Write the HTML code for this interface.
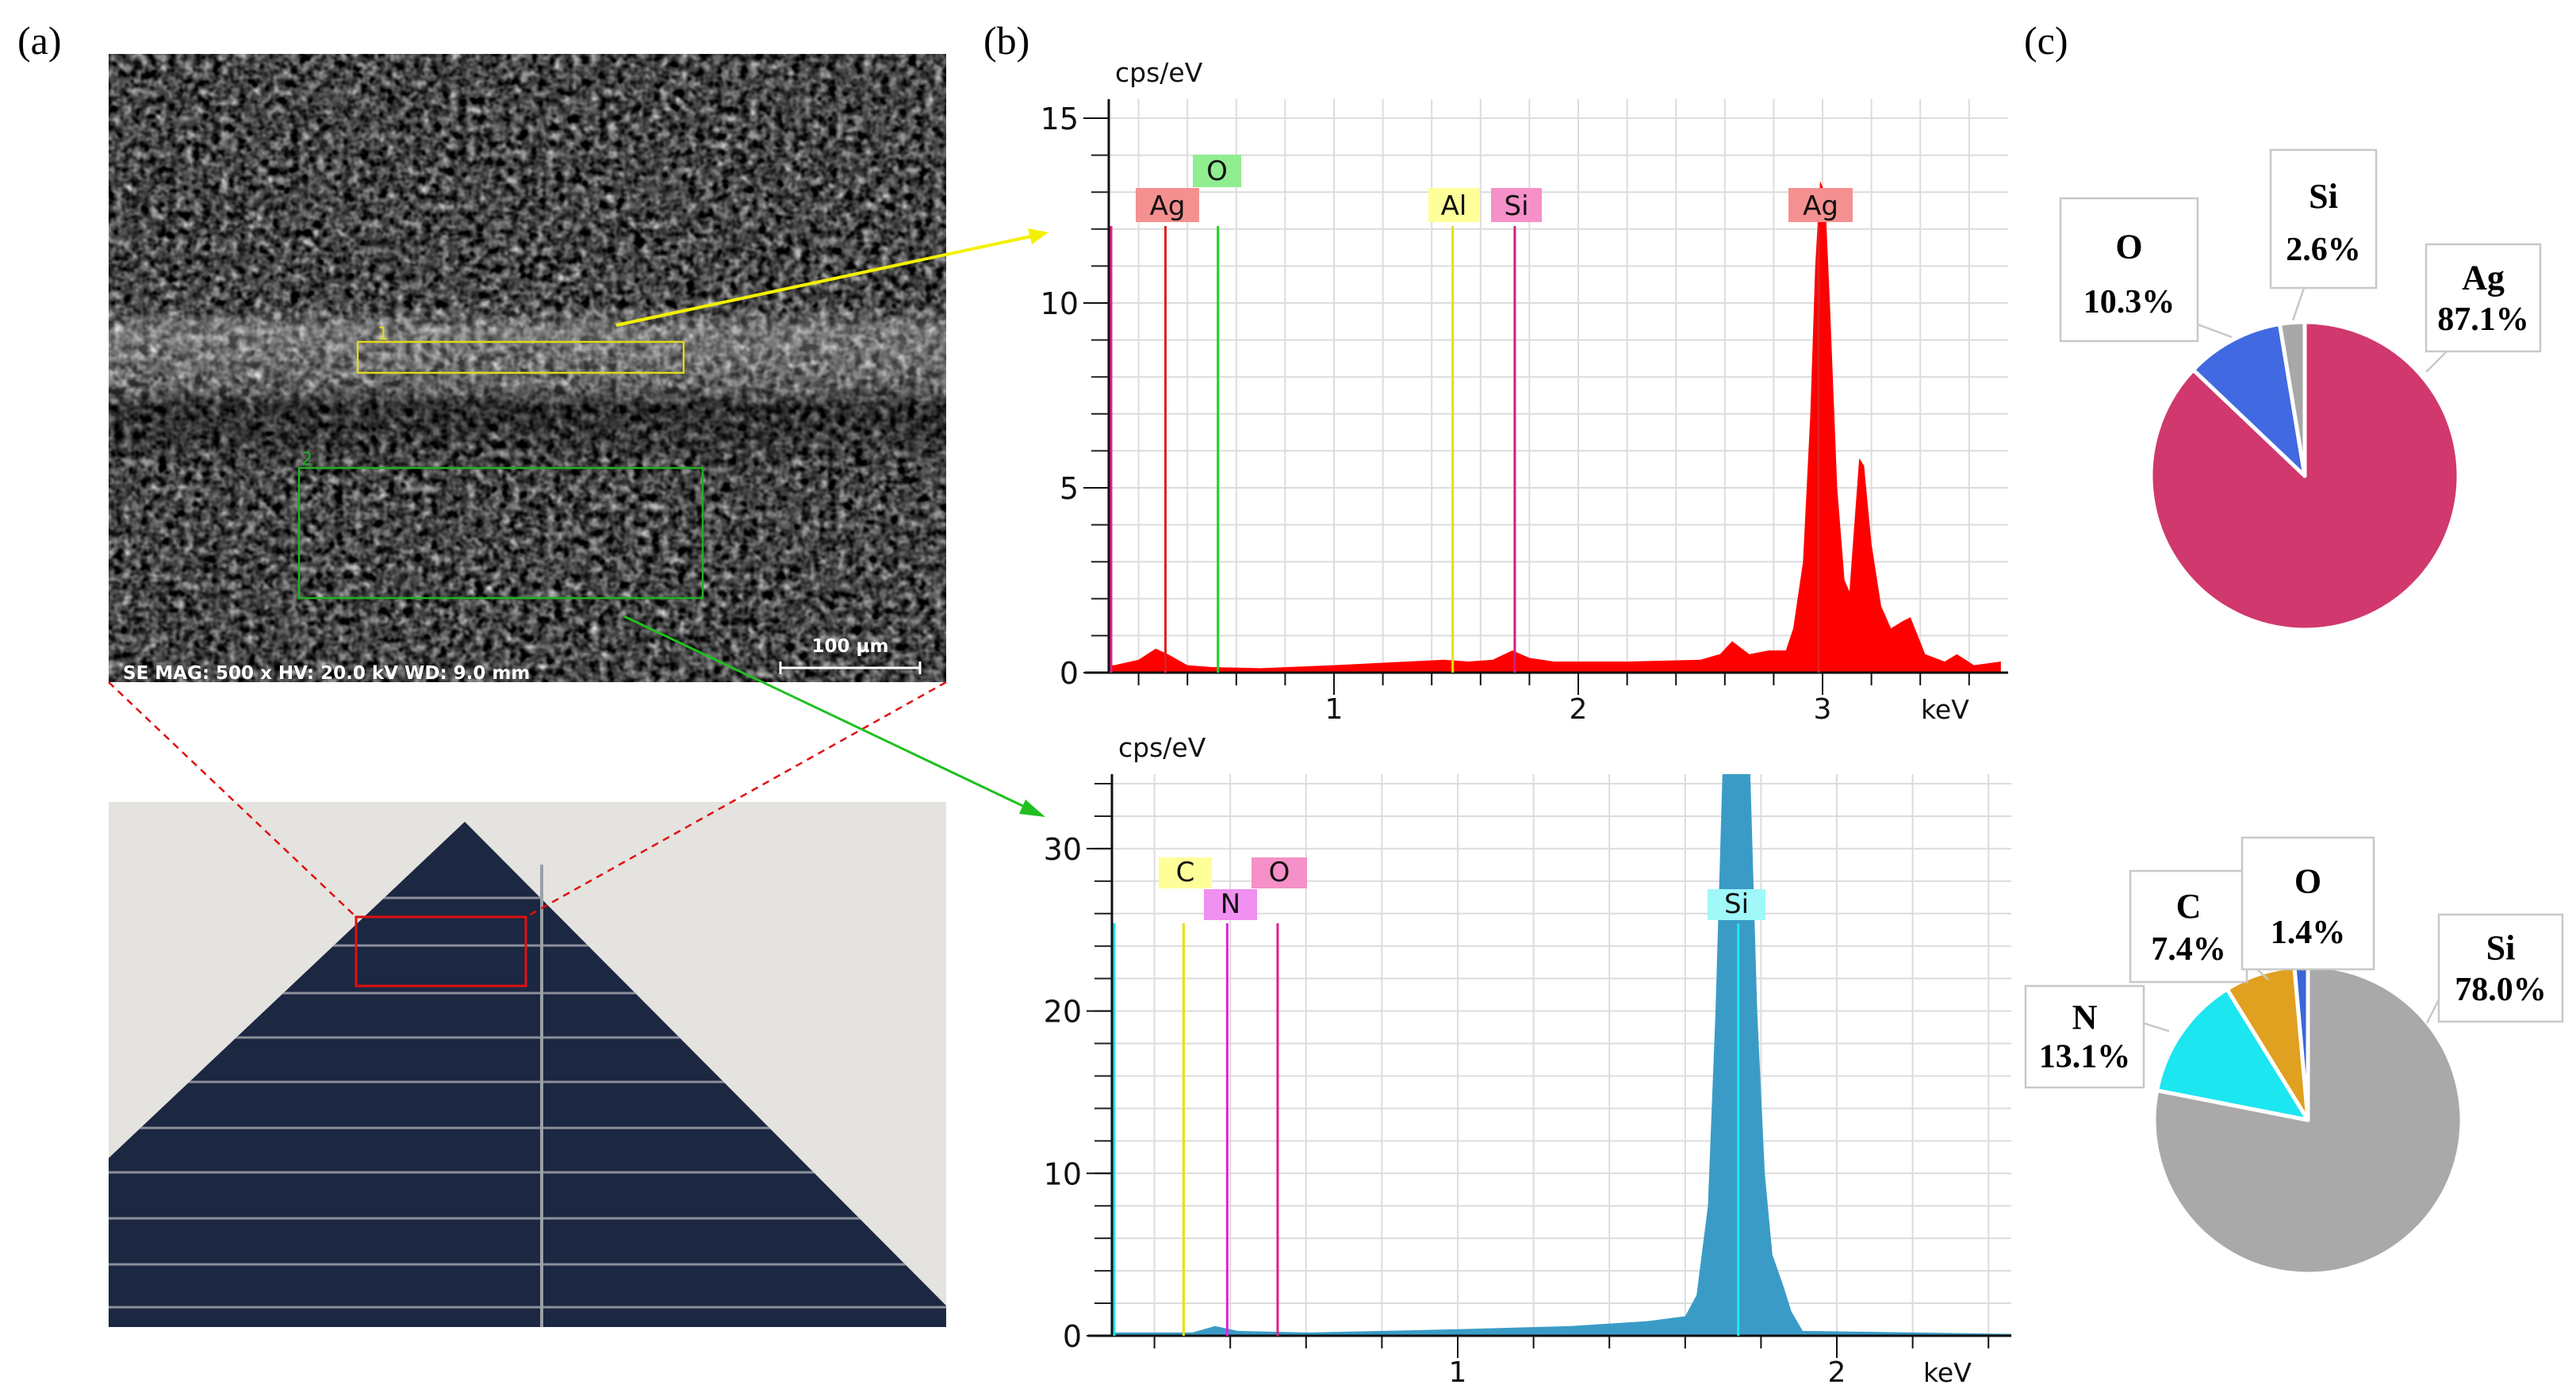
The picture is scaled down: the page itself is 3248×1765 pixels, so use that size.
<!DOCTYPE html>
<html><head><meta charset="utf-8"><style>
html,body{margin:0;padding:0;background:#fff;}
svg{display:block;}
.ser{font-family:"Liberation Serif",serif;}
.sans{font-family:"DejaVu Sans","Liberation Sans",sans-serif;}
</style></head><body>
<svg id="fig" width="3248" height="1765" viewBox="0 0 3248 1765" xmlns="http://www.w3.org/2000/svg">
<defs>
<filter id="tex" x="0" y="0" width="100%" height="100%" color-interpolation-filters="sRGB">
<feTurbulence type="fractalNoise" baseFrequency="0.09" numOctaves="2" seed="3"/>
<feColorMatrix type="matrix" values="0.33 0.33 0.33 0 0  0.33 0.33 0.33 0 0  0.33 0.33 0.33 0 0  0 0 0 0 1"/>
<feComponentTransfer><feFuncR type="linear" slope="2" intercept="-0.72"/><feFuncG type="linear" slope="2" intercept="-0.72"/><feFuncB type="linear" slope="2" intercept="-0.72"/></feComponentTransfer>
</filter>
<linearGradient id="band" x1="0" y1="0" x2="0" y2="1">
<stop offset="0" stop-color="#fff" stop-opacity="0"/>
<stop offset="0.40" stop-color="#fff" stop-opacity="0"/>
<stop offset="0.44" stop-color="#fff" stop-opacity="0.3"/>
<stop offset="0.52" stop-color="#fff" stop-opacity="0.18"/>
<stop offset="0.56" stop-color="#000" stop-opacity="0.35"/>
<stop offset="0.62" stop-color="#000" stop-opacity="0.2"/>
<stop offset="0.66" stop-color="#000" stop-opacity="0"/>
<stop offset="1" stop-color="#000" stop-opacity="0"/>
</linearGradient>
<clipPath id="clipTop"><rect x="1400" y="125" width="1132" height="725"/></clipPath>
<clipPath id="clipBot"><rect x="1404" y="976" width="1132" height="710"/></clipPath>
</defs>

<text class="ser" x="22" y="68" font-size="50">(a)</text>
<text class="ser" x="1240" y="68" font-size="50">(b)</text>
<text class="ser" x="2552" y="68" font-size="50">(c)</text>

<g>
<rect x="137" y="68" width="1056" height="792" fill="#3a3a3a"/>
<rect x="137" y="68" width="1056" height="792" filter="url(#tex)"/>
<rect x="137" y="68" width="1056" height="792" fill="url(#band)"/>
<rect x="451" y="431" width="411" height="39" fill="none" stroke="#e0d820" stroke-width="2.5"/>
<text x="476" y="428" fill="#e0d820" font-size="22" class="sans">1</text>
<rect x="377" y="590" width="509" height="164" fill="none" stroke="#20b020" stroke-width="2.5"/>
<text x="380" y="586" fill="#20b020" font-size="22" class="sans">2</text>
<text class="sans" x="155" y="856" font-size="23" font-weight="bold" fill="#fff">SE  MAG: 500 x  HV: 20.0 kV  WD: 9.0 mm</text>
<text class="sans" x="1072" y="822" font-size="23" font-weight="bold" fill="#fff" text-anchor="middle">100 µm</text>
<path d="M984,834 v16 M984,842 H1160 M1160,834 v16" stroke="#fff" stroke-width="3" fill="none"/>
</g>

<g>
<rect x="137" y="1011" width="1056" height="662" fill="#e4e3df"/>
<polygon points="586,1036 137,1460 137,1673 1193,1673 1193,1646" fill="#1c2742"/>
<g id="fingers" stroke="#8a8f99" stroke-width="3"></g>
<line x1="683" y1="1090" x2="683" y2="1673" stroke="#9aa0a8" stroke-width="4"/>
<rect x="449" y="1156" width="214" height="87" fill="none" stroke="#e01010" stroke-width="3"/>
</g>
<line x1="137" y1="860" x2="449" y2="1156" stroke="#e01010" stroke-width="2.5" stroke-dasharray="9,7"/>
<line x1="1193" y1="860" x2="663" y2="1156" stroke="#e01010" stroke-width="2.5" stroke-dasharray="9,7"/>

<line x1="777" y1="410" x2="1300" y2="298" stroke="#f4f000" stroke-width="4"/>
<polygon points="1322,293 1296,288 1301,308" fill="#f4f000"/>
<line x1="787" y1="777" x2="1298" y2="1020" stroke="#20c020" stroke-width="3"/>
<polygon points="1318,1030 1293,1008 1285,1026" fill="#20c020"/>

<g id="spec1"></g>
<g id="spec2"></g>
<g id="pie1"></g>
<g id="pie2"></g>
</svg>
<script>
const topEnergy = [0,0.02,0.1,0.2,0.27,0.32,0.4,0.5,0.7,1.0,1.3,1.45,1.55,1.65,1.73,1.8,1.9,2.2,2.5,2.58,2.63,2.7,2.78,2.85,2.88,2.92,2.95,2.97,2.99,3.01,3.03,3.06,3.09,3.11,3.13,3.15,3.17,3.2,3.24,3.28,3.33,3.36,3.39,3.42,3.5,3.55,3.62,3.73];
const topCounts = [0,0.2,0.2,0.35,0.65,0.5,0.2,0.15,0.12,0.2,0.3,0.35,0.3,0.35,0.6,0.4,0.3,0.3,0.35,0.5,0.85,0.5,0.6,0.6,1.2,3,7,11,13.3,13,10,5,2.5,2.2,4,5.8,5.6,3.5,1.8,1.2,1.4,1.5,1.0,0.5,0.3,0.5,0.2,0.3];
const topYTicks = [0,5,10,15];
const topXTicks = [1,2,3];
const topMarkers = ["Ag","O","Al","Si","Ag"];
const topMarkerE = [0.31,0.525,1.486,1.74,2.984];
const botEnergy = [0,0.02,0.3,0.36,0.42,0.6,1.0,1.3,1.5,1.6,1.63,1.66,1.68,1.7,1.77,1.79,1.81,1.83,1.86,1.88,1.91,2.5];
const botCounts = [0,0.2,0.2,0.6,0.3,0.2,0.4,0.6,0.9,1.2,2.5,8,20,36,36,20,10,5,3,1.5,0.3,0.1];
const botYTicks = [0,10,20,30];
const botXTicks = [1,2];
const botMarkers = ["C","N","O","Si"];
const botMarkerE = [0.277,0.392,0.525,1.74];
const pie1Labels = ["Ag","O","Si"];
const pie1Values = [87.1,10.3,2.6];
const pie2Labels = ["Si","N","C","O"];
const pie2Values = [78.0,13.1,7.4,1.4];

const NS="http://www.w3.org/2000/svg";
function mk(p,tag,attrs){const e=document.createElementNS(NS,tag);for(const k in attrs)e.setAttribute(k,attrs[k]);p.appendChild(e);return e;}

const fg=document.getElementById('fingers');
[1132,1192,1252,1308,1364,1422,1478,1536,1594,1648].forEach(y=>{mk(fg,'line',{x1:137,y1:y,x2:1193,y2:y});});
(function(){const d=mk(document.querySelector('defs'),'clipPath',{id:'tri'});mk(d,'polygon',{points:'586,1036 137,1460 137,1673 1193,1673 1193,1646'});fg.setAttribute('clip-path','url(#tri)');})();

function spectrum(gid,cfg){
  const g=document.getElementById(gid);
  const X=e=>cfg.x0+e*cfg.kx, Y=v=>cfg.y0-v*cfg.ky;
  for(let e=0.2;X(e)<=cfg.xr;e+=0.2){mk(g,'line',{x1:X(e),y1:cfg.yt,x2:X(e),y2:cfg.y0,stroke:'#dcdcdc','stroke-width':2});}
  for(let v=cfg.ystep;Y(v)>=cfg.yt;v+=cfg.ystep){mk(g,'line',{x1:cfg.ax,y1:Y(v),x2:cfg.xr,y2:Y(v),stroke:'#dcdcdc','stroke-width':2});mk(g,'line',{x1:cfg.ax-22,y1:Y(v),x2:cfg.ax,y2:Y(v),stroke:'#222','stroke-width':2});}
  let pts=cfg.E.map((e,i)=>X(e)+','+Y(cfg.C[i])).join(' ');
  pts=X(cfg.E[0])+','+cfg.y0+' '+pts+' '+X(cfg.E[cfg.E.length-1])+','+cfg.y0;
  const poly=mk(g,'polygon',{points:pts,fill:cfg.fill,'clip-path':cfg.clip});
  
  
  mk(g,'line',{x1:cfg.ax,y1:cfg.yt,x2:cfg.ax,y2:cfg.y0,stroke:'#111','stroke-width':3});
  mk(g,'line',{x1:cfg.ax-30,y1:cfg.y0,x2:cfg.xr,y2:cfg.y0,stroke:'#111','stroke-width':3});
  for(let e=0.2;X(e)<=cfg.xr;e+=0.2){const maj=Math.abs(e-Math.round(e))<0.01;mk(g,'line',{x1:X(e),y1:cfg.y0,x2:X(e),y2:cfg.y0+(maj?28:16),stroke:'#111','stroke-width':2});}
  cfg.yt_.forEach(v=>{mk(g,'line',{x1:cfg.ax-32,y1:Y(v),x2:cfg.ax,y2:Y(v),stroke:'#111','stroke-width':2});
    const t=mk(g,'text',{x:cfg.ax-38,y:Y(v)+14,'font-size':38,'text-anchor':'end',class:'sans',fill:'#111'});t.textContent=v;
    
    });
  cfg.xt.forEach(v=>{const t=mk(g,'text',{x:X(v),y:cfg.y0+58,'font-size':36,'text-anchor':'middle',class:'sans',fill:'#111'});t.textContent=v;
    
    });
  const ku=mk(g,'text',{x:cfg.kevx,y:cfg.y0+58,'font-size':33,class:'sans',fill:'#111'});ku.textContent='keV';
  
  
  const yu=mk(g,'text',{x:cfg.ax+8,y:cfg.yt-22,'font-size':33,class:'sans',fill:'#111'});yu.textContent='cps/eV';
  
  
  mk(g,'line',{x1:cfg.ax+3,y1:cfg.lineTop,x2:cfg.ax+3,y2:cfg.y0,stroke:cfg.startCol,'stroke-width':3});
  cfg.M.forEach((m,i)=>{const x=X(cfg.ME[i]);const b=cfg.boxes[i];
    mk(g,'line',{x1:x,y1:cfg.lineTop,x2:x,y2:cfg.y0,stroke:b.lc,'stroke-width':3});
    mk(g,'rect',{x:b.x,y:b.y,width:b.w,height:b.h,fill:b.bg});
    const t=mk(g,'text',{x:b.x+b.w/2,y:b.y+b.h-9,'font-size':34,'text-anchor':'middle',class:'sans',fill:'#111'});t.textContent=m;
    
    });
}
spectrum('spec1',{x0:1374,kx:308,y0:848,ky:46.6,yt:125,xr:2532,ax:1398,ystep:1,yt_:topYTicks,xt:topXTicks,E:topEnergy,C:topCounts,fill:'#ff0000',clip:'url(#clipTop)',kevx:2422,lineTop:285,startCol:'#e0208a',M:topMarkers,ME:topMarkerE,
 boxes:[{x:1432,y:237,w:80,h:43,bg:'#f59090',lc:'#e02020'},{x:1504,y:195,w:61,h:41,bg:'#90ee90',lc:'#20d020'},{x:1801,y:237,w:64,h:43,bg:'#ffff99',lc:'#e8e000'},{x:1880,y:237,w:64,h:43,bg:'#f590c8',lc:'#d0207a'},{x:2255,y:237,w:81,h:43,bg:'#f59090',lc:'#e02020'}]});
spectrum('spec2',{x0:1360,kx:478,y0:1684,ky:20.47,yt:976,xr:2536,ax:1402,ystep:2,yt_:botYTicks,xt:botXTicks,E:botEnergy,C:botCounts,fill:'#3a9cc6',clip:'url(#clipBot)',kevx:2425,lineTop:1164,startCol:'#20e0f0',M:botMarkers,ME:botMarkerE,
 boxes:[{x:1461,y:1081,w:67,h:39,bg:'#ffff99',lc:'#e8e000'},{x:1518,y:1121,w:67,h:39,bg:'#f090f0',lc:'#e020e0'},{x:1578,y:1081,w:70,h:39,bg:'#f590c8',lc:'#e0208a'},{x:2153,y:1121,w:73,h:39,bg:'#a0f8f8',lc:'#20e8f0'}]});

function pie(gid,cx,cy,r,labels,vals,cols,boxes){
  const g=document.getElementById(gid);
  const tot=vals.reduce((a,b)=>a+b,0);let a0=-Math.PI/2;
  vals.forEach((v,i)=>{const a1=a0+v/tot*2*Math.PI;const large=(a1-a0)>Math.PI?1:0;
    const d=`M${cx},${cy} L${cx+r*Math.cos(a0)},${cy+r*Math.sin(a0)} A${r},${r} 0 ${large} 1 ${cx+r*Math.cos(a1)},${cy+r*Math.sin(a1)} Z`;
    const p=mk(g,'path',{d:d,fill:cols[i],stroke:'#fff','stroke-width':5,'stroke-linejoin':'round'});
    
    
    a0=a1;});
  boxes.forEach((b,i)=>{
    mk(g,'line',{x1:b.sx,y1:b.sy,x2:b.ex,y2:b.ey,stroke:'#c8c8c8','stroke-width':2.5});
    mk(g,'rect',{x:b.x,y:b.y,width:b.w,height:b.h,fill:'#fff',stroke:'#c8c8c8','stroke-width':2.5});
    const t1=mk(g,'text',{x:b.x+b.w/2,y:b.y+b.h*0.42,'font-size':44,'font-weight':'bold','text-anchor':'middle',class:'ser'});t1.textContent=labels[i];
    
    
    const t2=mk(g,'text',{x:b.x+b.w/2,y:b.y+b.h*0.8,'font-size':42,'font-weight':'bold','text-anchor':'middle',class:'ser'});t2.textContent=vals[i].toFixed(1)+'%';
    
    
  });
}
pie('pie1',2906,600,194,pie1Labels,pie1Values,['#d0386e','#4169e1','#a8a8a8'],
 [{x:3059,y:308,w:144,h:135,sx:3085,sy:443,ex:3059,ey:469},
  {x:2598,y:250,w:173,h:180,sx:2771,sy:409,ex:2814,ey:425},
  {x:2863,y:189,w:133,h:174,sx:2905,sy:363,ex:2891,ey:404}]);
pie('pie2',2910,1412,194,pie2Labels,pie2Values,['#a9a9a9','#1ce6f0','#e0a020','#3a66d8'],
 [{x:3075,y:1153,w:156,h:135,sx:3075,sy:1260,ex:3060,ey:1290},
  {x:2554,y:1243,w:149,h:128,sx:2703,sy:1290,ex:2735,ey:1300},
  {x:2686,y:1098,w:147,h:140,sx:2833,sy:1210,ex:2860,ey:1235},
  {x:2827,y:1056,w:166,h:166,sx:2905,sy:1222,ex:2902,ey:1222}]);
</script>
</body></html>
